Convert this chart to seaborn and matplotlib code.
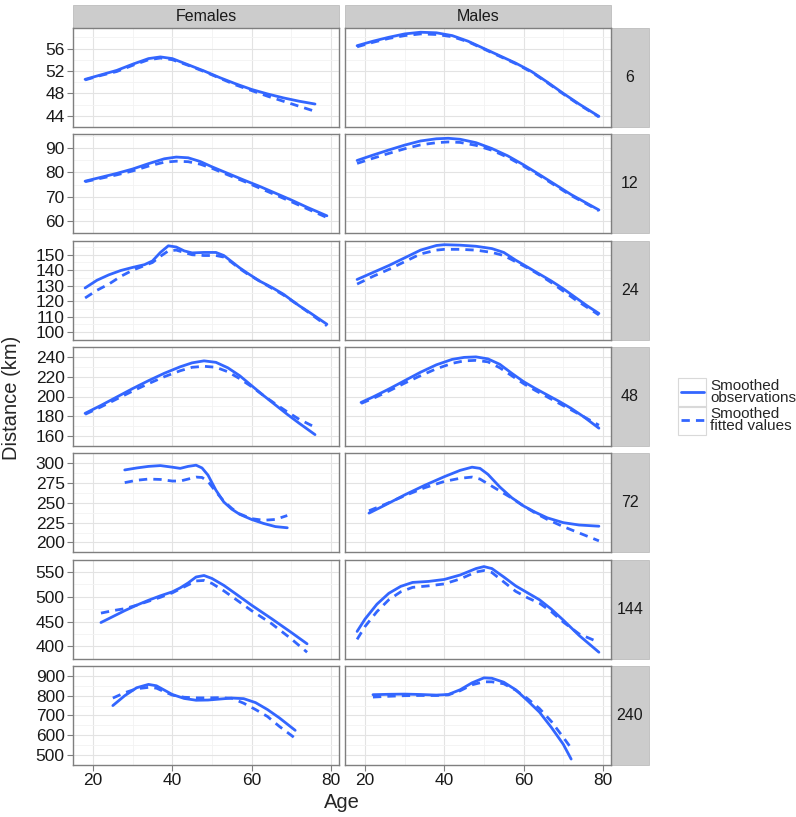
import numpy as np
import pandas as pd
import matplotlib
matplotlib.use("Agg")
import matplotlib.pyplot as plt
from matplotlib.patches import Rectangle
from matplotlib.lines import Line2D
import seaborn as sns

# --- DATA ---
SEXES = ["Females", "Males"]
DURATIONS = ["6", "12", "24", "48", "72", "144", "240"]

F6_AGE = [18, 22, 26, 30, 34, 37, 40, 44, 48, 52, 56, 60, 64, 68, 72, 76]
F6_OBS = [50.5, 51.3, 52.1, 53.2, 54.2, 54.5, 54.2, 53.1, 52.0, 50.8, 49.7, 48.7, 47.9, 47.2, 46.6, 46.1]
F6_FIT = [50.4, 51.2, 51.9, 53.0, 54.0, 54.3, 54.0, 53.0, 51.9, 50.7, 49.5, 48.5, 47.5, 46.6, 45.7, 44.8]

M6_AGE = [18, 22, 26, 30, 34, 38, 42, 46, 50, 54, 58, 62, 66, 70, 74, 79]
M6_OBS = [56.5, 57.3, 58.0, 58.6, 58.9, 58.8, 58.3, 57.3, 56.0, 54.7, 53.4, 51.9, 50.0, 48.0, 46.1, 43.9]
M6_FIT = [56.3, 57.1, 57.8, 58.3, 58.6, 58.5, 58.1, 57.2, 55.9, 54.6, 53.3, 51.8, 49.9, 47.9, 46.0, 43.8]

F12_AGE = [18, 22, 26, 30, 34, 38, 41, 44, 47, 50, 54, 58, 62, 66, 70, 74, 79]
F12_OBS = [76.4, 78.0, 79.6, 81.4, 83.6, 85.6, 86.3, 86.0, 84.5, 82.3, 79.6, 76.9, 74.3, 71.5, 68.7, 65.7, 62.2]
F12_FIT = [76.2, 77.6, 79.0, 80.6, 82.6, 84.2, 84.6, 84.4, 83.4, 81.7, 79.0, 76.4, 73.6, 70.8, 68.0, 65.1, 61.5]

M12_AGE = [18, 22, 26, 30, 34, 38, 41, 44, 48, 52, 56, 60, 64, 68, 72, 76, 79]
M12_OBS = [84.9, 87.1, 89.2, 91.2, 92.9, 93.8, 94.0, 93.6, 92.2, 89.8, 86.8, 83.1, 79.1, 75.0, 70.9, 67.3, 64.6]
M12_FIT = [83.7, 85.8, 87.8, 89.7, 91.3, 92.2, 92.5, 92.3, 91.1, 89.1, 86.2, 82.6, 78.7, 74.6, 70.5, 67.0, 64.3]

F24_AGE = [18, 21, 24, 27, 30, 33, 35, 37, 39, 41, 43, 45, 48, 51, 53, 55, 57, 59, 62, 65, 68, 72, 75, 79]
F24_OBS = [128.5, 133.5, 137, 139.8, 141.8, 143.6, 146, 151.5, 155.8, 155, 152.5, 151.2, 151.5, 151.5,
           149.5, 145.5, 141.5, 138, 133, 129, 124.5, 117, 112, 105]
F24_FIT = [122, 127, 131, 136, 140, 143, 145, 149, 152.5, 153, 151.5, 150, 149.5, 149.5,
           148.5, 145, 141, 137.5, 133, 128.5, 124, 117, 111.5, 104]

M24_AGE = [18, 22, 26, 30, 34, 38, 40, 44, 48, 52, 55, 58, 61, 64, 67, 70, 73, 76, 79]
M24_OBS = [134, 138.5, 143, 148, 153, 156, 156.5, 156.2, 155.5, 154, 151.5, 146.5, 142, 137.5, 133, 128, 122.5, 117, 112]
M24_FIT = [131, 136, 140.5, 145.5, 150.5, 153, 153.5, 153.5, 153, 151.5, 149.5, 145.5, 141.5, 137, 132, 126.5, 121, 116, 111]

F48_AGE = [18, 22, 26, 30, 34, 38, 42, 45, 48, 51, 54, 57, 60, 63, 66, 69, 72, 76]
F48_OBS = [183, 191, 199.5, 208, 216, 223.5, 230, 234, 236, 234.5, 229, 221, 211, 201, 191.5, 182, 173, 161.5]
F48_FIT = [182, 189.5, 197.5, 205.5, 213, 220, 226, 229.5, 230.5, 229.5, 225, 218, 210, 201, 192.5, 184.5, 177, 169]

M48_AGE = [19, 22, 26, 30, 34, 38, 42, 45, 48, 51, 54, 57, 60, 63, 66, 69, 72, 75, 79]
M48_OBS = [194, 199.5, 207.5, 216, 224.5, 232, 237.5, 239.5, 240, 238, 232.5, 223.5, 215, 208, 201.5, 195, 188, 180, 168]
M48_FIT = [193, 198, 205.5, 213.5, 221, 228, 233.5, 236, 236.5, 235, 229, 221, 213, 206, 199.5, 193, 186.5, 180, 171]

F72_AGE = [28, 31, 34, 37, 40, 42, 44, 46, 47.5, 49, 51, 53, 55, 57, 60, 63, 66, 69]
F72_OBS = [291.5, 294, 296, 297, 295, 293.5, 296, 297.5, 294, 285, 266, 251, 242, 235.5, 229, 224, 220, 218.5]
F72_FIT = [275.5, 278.5, 280, 279.5, 277.5, 277.5, 280, 282.5, 282, 277, 264, 252, 243, 236, 230, 228, 229, 234]

M72_AGE = [21, 25, 30, 35, 40, 44, 47, 49, 51, 54, 57, 60, 63, 66, 70, 74, 79]
M72_OBS = [237, 247, 260, 272, 283, 291, 295, 293.5, 286, 270, 256.5, 246, 238, 231, 225, 222, 220.5]
M72_FIT = [240, 248, 259, 269, 277, 281, 282.5, 280, 274, 265, 256, 246, 237, 229, 220, 212, 202]

F144_AGE = [22, 25, 28, 31, 34, 37, 40, 42, 44, 46, 48, 50, 53, 56, 60, 65, 70, 74]
F144_OBS = [448, 460, 472, 483, 493, 502, 510, 518, 528, 540, 543, 537, 523, 506, 483, 456, 428, 405]
F144_FIT = [467, 472, 476, 483, 491, 499, 508, 516, 524, 532, 533, 527, 512, 495, 472, 446, 415, 388]

M144_AGE = [18, 20, 23, 26, 29, 32, 36, 40, 44, 48, 50, 52, 55, 58, 61, 64, 67, 70, 74, 79]
M144_OBS = [430, 455, 485, 507, 521, 529, 531, 535, 544, 557, 561, 557, 540, 522, 508, 494, 475, 453, 422, 388]
M144_FIT = [414, 440, 470, 494, 510, 519, 522, 526, 536, 550, 553, 549, 530, 511, 498, 487, 470, 449, 425, 408]

F240_AGE = [25, 28, 31, 34, 36, 38, 40, 43, 46, 49, 52, 55, 58, 61, 64, 67, 71]
F240_OBS = [750, 800, 840, 857, 850, 828, 806, 786, 777, 778, 783, 788, 785, 765, 730, 688, 625]
F240_FIT = [788, 815, 835, 842, 838, 820, 803, 792, 789, 789, 790, 787, 762, 730, 695, 645, 585]

M240_AGE = [22, 26, 30, 34, 38, 41, 44, 47, 50, 52, 55, 58, 61, 64, 67, 70, 72]
M240_OBS = [805, 807, 808, 806, 803, 806, 830, 865, 890, 888, 868, 830, 775, 717, 640, 555, 480]
M240_FIT = [793, 797, 800, 801, 801, 804, 825, 855, 870, 870, 860, 828, 785, 735, 670, 590, 535]

Y_TICKS = {
    "6": [44, 48, 52, 56],
    "12": [60, 70, 80, 90],
    "24": [100, 110, 120, 130, 140, 150],
    "48": [160, 180, 200, 220, 240],
    "72": [200, 225, 250, 275, 300],
    "144": [400, 450, 500, 550],
    "240": [500, 600, 700, 800, 900],
}
X_TICKS = [20, 40, 60, 80]
LEGEND_LABELS = ["Smoothed\nobservations", "Smoothed\nfitted values"]

PANELS = {
    ("Females", "6"): (F6_AGE, F6_OBS, F6_FIT), ("Males", "6"): (M6_AGE, M6_OBS, M6_FIT),
    ("Females", "12"): (F12_AGE, F12_OBS, F12_FIT), ("Males", "12"): (M12_AGE, M12_OBS, M12_FIT),
    ("Females", "24"): (F24_AGE, F24_OBS, F24_FIT), ("Males", "24"): (M24_AGE, M24_OBS, M24_FIT),
    ("Females", "48"): (F48_AGE, F48_OBS, F48_FIT), ("Males", "48"): (M48_AGE, M48_OBS, M48_FIT),
    ("Females", "72"): (F72_AGE, F72_OBS, F72_FIT), ("Males", "72"): (M72_AGE, M72_OBS, M72_FIT),
    ("Females", "144"): (F144_AGE, F144_OBS, F144_FIT), ("Males", "144"): (M144_AGE, M144_OBS, M144_FIT),
    ("Females", "240"): (F240_AGE, F240_OBS, F240_FIT), ("Males", "240"): (M240_AGE, M240_OBS, M240_FIT),
}

rows = []
for (sex, dur), (age, obs, fit) in PANELS.items():
    for a, o, f in zip(age, obs, fit):
        rows.append((sex, dur, a, o, "obs"))
        rows.append((sex, dur, a, f, "fit"))
df = pd.DataFrame(rows, columns=["sex", "dur", "age", "dist", "kind"])

# --- STYLE ---
BLUE = "#3366FF"
BORDER = "#7F7F7F"
STRIP = "#CCCCCC"
TXT = "#1A1A1A"
sns.set_style("white")
plt.rcParams["font.family"] = ["Liberation Sans", "DejaVu Sans"]

W, H = 796, 817
fig, axes = plt.subplots(7, 2, figsize=(W / 100, H / 100), dpi=100, sharex=True)
fig.subplots_adjust(left=73 / W, right=611 / W, top=1 - 28 / H, bottom=1 - 765 / H,
                    wspace=6 / 266, hspace=7.3 / 99)

panel_h = 99.0
panel_w = 266.0

for i, dur in enumerate(DURATIONS):
    row_df = df[df["dur"] == dur]
    lo, hi = row_df["dist"].min(), row_df["dist"].max()
    pad = (hi - lo) * 0.05
    ticks = Y_TICKS[dur]
    step = ticks[1] - ticks[0]
    minor = np.arange(ticks[0] - step / 2, ticks[-1] + step, step)
    for j, sex in enumerate(SEXES):
        ax = axes[i, j]
        sub = row_df[row_df["sex"] == sex]
        sns.lineplot(data=sub, x="age", y="dist", style="kind", style_order=["obs", "fit"],
                     dashes={"obs": "", "fit": (3, 2.2)}, color=BLUE, lw=2.0,
                     estimator=None, legend=False, ax=ax)
        ax.set_xlim(14.95, 82.05)
        ax.set_ylim(lo - pad, hi + pad)
        ax.set_xticks(X_TICKS)
        ax.set_xticks([30, 50, 70], minor=True)
        ax.set_yticks(ticks)
        ax.set_yticks(minor, minor=True)
        ax.set_axisbelow(True)
        ax.grid(which="major", color="#E3E3E3", lw=0.8)
        ax.grid(which="minor", color="#F3F3F3", lw=0.6)
        ax.set_xlabel("")
        ax.set_ylabel("")
        for s in ax.spines.values():
            s.set_color(BORDER)
            s.set_linewidth(1.0)
        ax.tick_params(which="minor", length=0)
        ax.tick_params(which="major", length=4, width=0.8, color=BORDER,
                       labelsize=12.5, labelcolor=TXT, pad=2)
        ax.tick_params(axis="y", left=(j == 0), labelleft=(j == 0))
        ax.tick_params(axis="x", bottom=(i == 6), labelbottom=(i == 6))

        if i == 0:
            ax.add_patch(Rectangle((0, 1), 1, 23 / panel_h, transform=ax.transAxes, clip_on=False,
                                   fc=STRIP, ec="#BDBDBD", lw=0.6))
            ax.text(0.5, 1 + 11.5 / panel_h, sex, transform=ax.transAxes, ha="center", va="center",
                    fontsize=11.5, color=TXT)
        if j == 1:
            ax.add_patch(Rectangle((1, 0), 38 / panel_w, 1, transform=ax.transAxes, clip_on=False,
                                   fc=STRIP, ec="#BDBDBD", lw=0.6))
            ax.text(1 + 19 / panel_w, 0.5, dur, transform=ax.transAxes, ha="center", va="center",
                    fontsize=11.5, color=TXT)

fig.text(12 / W, 1 - 398 / H, "Distance (km)", rotation=90, ha="center", va="center", fontsize=14.5)
fig.text(342 / W, 1 - 803 / H, "Age", ha="center", va="center", fontsize=14.5)

handles = [Line2D([], [], color=BLUE, lw=2.0, ls="-"),
           Line2D([], [], color=BLUE, lw=2.0, dashes=(3, 2.2))]
leg = fig.legend(handles, LEGEND_LABELS, loc="center left", bbox_to_anchor=(673 / W, 1 - 406 / H),
                 frameon=False, fontsize=11, handlelength=1.5, handletextpad=0.45,
                 labelspacing=0.1, borderpad=0)
for t in leg.get_texts():
    t.set_linespacing(0.85)

# grey key boxes like the ggplot legend
fig.canvas.draw()
renderer = fig.canvas.get_renderer()
for h in leg.legend_handles:
    bb = h.get_window_extent(renderer)
    cx, cy = (bb.x0 + bb.x1) / 2, (bb.y0 + bb.y1) / 2
    fig.add_artist(Rectangle(((cx - 14) / W, (cy - 14.5) / H), 28 / W, 29 / H,
                             transform=fig.transFigure, fc="none", ec="#D9D9D9", lw=0.8))

fig.savefig("out.png", dpi=100)
